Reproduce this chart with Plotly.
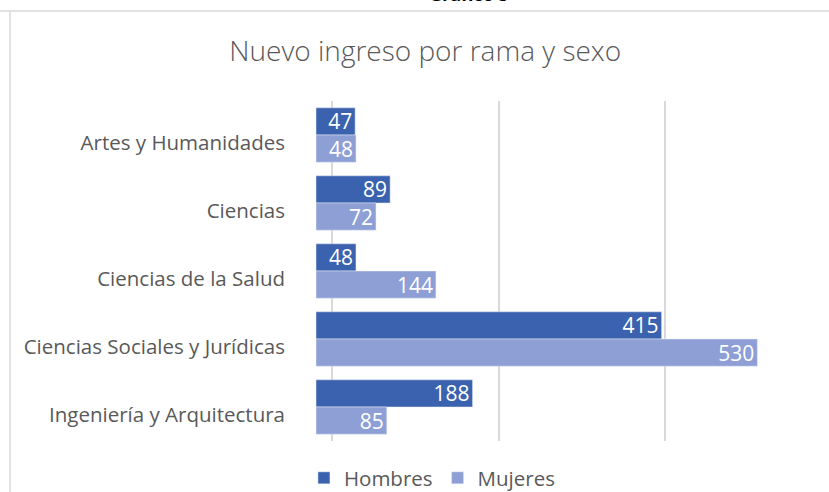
import plotly.graph_objects as go

ramas = [
    "Artes y Humanidades",
    "Ciencias",
    "Ciencias de la Salud",
    "Ciencias Sociales y Jurídicas",
    "Ingeniería y Arquitectura",
]
hombres = [47, 89, 48, 415, 188]
mujeres = [48, 72, 144, 530, 85]
grid_ticks = [0, 200, 400, 600]

GREY = "#595959"
PX = 0.832  # px per unit on the front plane

fig = go.Figure()

for name, vals, color in [("Hombres", hombres, "#3A62AE"), ("Mujeres", mujeres, "#8E9FD5")]:
    fig.add_trace(
        go.Bar(
            y=ramas,
            x=vals,
            name=name,
            orientation="h",
            marker_color=color,
            text=vals,
            textposition="inside",
            insidetextanchor="end",
            textangle=0,
            constraintext="none",
            textfont=dict(color="white", size=21, family="Open Sans"),
        )
    )

# back wall of the 3D plot: gridlines sit ~16px to the right of the front plane
fig.add_trace(go.Scatter(x=[], y=[], xaxis="x2", showlegend=False))

fig.update_layout(
    width=829,
    height=492,
    margin=dict(l=316, r=0, t=101, b=51),
    paper_bgcolor="white",
    plot_bgcolor="rgba(0,0,0,0)",
    font=dict(family="Open Sans", color=GREY),
    barmode="group",
    bargap=0.2,
    bargroupgap=0,
    title=dict(
        text="Nuevo ingreso por rama y sexo",
        x=0.513,
        xanchor="center",
        y=0.895,
        yanchor="middle",
        font=dict(size=28, color=GREY, family="Open Sans", weight=300),
    ),
    xaxis=dict(
        range=[0, 616],
        showticklabels=False,
        showgrid=False,
        zeroline=False,
        fixedrange=True,
    ),
    xaxis2=dict(
        overlaying="x",
        range=[-16 / PX, 616 - 16 / PX],
        tickvals=grid_ticks,
        showticklabels=False,
        showgrid=True,
        gridcolor="#D9D9D9",
        gridwidth=2,
        zeroline=False,
        layer="below traces",
    ),
    yaxis=dict(
        categoryorder="array",
        categoryarray=ramas,
        autorange="reversed",
        tickfont=dict(size=20.5, color=GREY),
        ticklabelstandoff=30,
        ticklabelshift=-8,
        showgrid=False,
    ),
    legend=dict(
        orientation="h",
        x=0.226,
        xanchor="center",
        yref="container",
        y=14 / 492,
        yanchor="middle",
        font=dict(size=20.5, color=GREY),
        traceorder="normal",
    ),
    showlegend=True,
)

# chart frame (top and left edges visible in the crop)
fig.add_shape(type="line", xref="paper", yref="paper",
              x0=-316 / 513, x1=1.0, y0=1 + 90 / 340, y1=1 + 90 / 340,
              line=dict(color="#D9D9D9", width=1.5))
fig.add_shape(type="line", xref="paper", yref="paper",
              x0=-306 / 513, x1=-306 / 513, y0=-51 / 340, y1=1 + 90 / 340,
              line=dict(color="#D9D9D9", width=1.5))

fig.add_annotation(
    text="<b>Gráfico 5</b>",
    xref="paper", yref="paper",
    x=0.216, y=1 + 107.5 / 340,
    yanchor="middle",
    showarrow=False,
    font=dict(size=18, color="black", family="Open Sans"),
)

fig.write_html(
    "out.html",
    config={"displayModeBar": False},
    post_script="document.body.style.margin='0';",
)
